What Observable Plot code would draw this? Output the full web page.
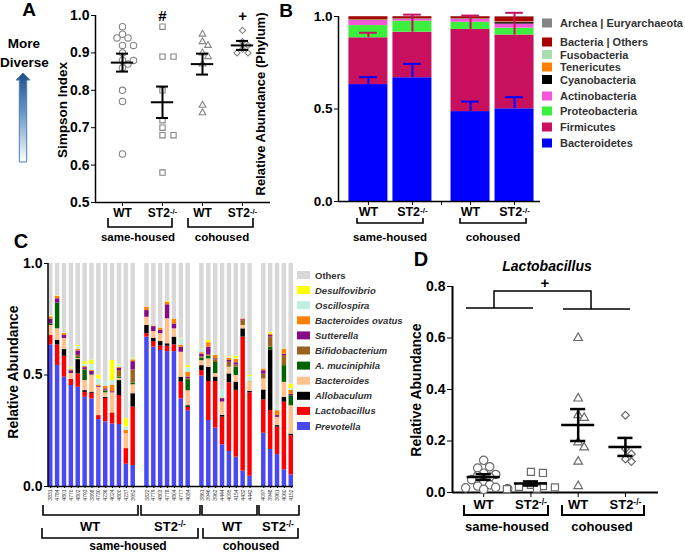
<!DOCTYPE html>
<html>
<head>
<meta charset="utf-8">
<script src="https://cdn.jsdelivr.net/npm/d3@7"></script>
<script src="https://cdn.jsdelivr.net/npm/@observablehq/plot@0.6"></script>
<style>
html,body{margin:0;padding:0;background:#fff;}
#fig{position:relative;width:685px;height:554px;overflow:hidden;background:#fff;}
#fig > svg{position:absolute;}
</style>
</head>
<body>
<div id="fig"></div>
<script>
// ================= DATA =================
const conditionLabels = ["WT", "ST2-/-", "WT", "ST2-/-"];
const housingLabels = ["same-housed", "cohoused"];

// Panel A: Simpson index
const simpsonWTSame = [0.97, 0.95, 0.94, 0.94, 0.92, 0.92, 0.90, 0.88, 0.88, 0.87, 0.86, 0.80, 0.77, 0.63];
const simpsonST2Same = [0.97, 0.89, 0.89, 0.80, 0.72, 0.70, 0.68, 0.68, 0.58];
const simpsonWTCo = [0.95, 0.93, 0.92, 0.90, 0.89, 0.87, 0.76, 0.74];
const simpsonST2Co = [0.96, 0.93, 0.92, 0.91, 0.90, 0.90];
const simpsonMean = [0.874, 0.768, 0.870, 0.920];
const simpsonSEM = [0.024, 0.042, 0.028, 0.012];
const simpsonSig = ["", "#", "", "+"];

// Panel B: phylum relative abundance (WT same, ST2 same, WT co, ST2 co)
const phylumNames = ["Bacteroidetes", "Firmicutes", "Proteobacteria", "Actinobacteria", "Cyanobacteria", "Tenericutes", "Fusobacteria", "Bacteria | Others", "Archea | Euryarchaeota"];
const bacteroidetes = [0.632, 0.669, 0.486, 0.501];
const firmicutes = [0.253, 0.246, 0.444, 0.399];
const proteobacteria = [0.066, 0.060, 0.039, 0.037];
const actinobacteria = [0.027, 0.009, 0.015, 0.022];
const cyanobacteria = [0.003, 0.002, 0.002, 0.008];
const tenericutes = [0.002, 0.001, 0.001, 0.002];
const fusobacteria = [0.001, 0.001, 0.001, 0.002];
const bacteriaOthers = [0.015, 0.011, 0.011, 0.027];
const archea = [0.001, 0.001, 0.001, 0.002];
const bacteroidetesSEM = [0.040, 0.075, 0.054, 0.063];
const firmicutesSEM = [0.027, 0.095, 0.075, 0.120];

// Panel C: genus relative abundance per mouse
const idsWTSame = ["3831", "4784", "4801", "4770", "4802", "4793", "3898", "4730", "4236", "4024", "4800", "4237", "3952"];
const idsST2Same = ["3822", "4779", "4803", "4778", "4804", "4777", "4084"];
const idsWTCo = ["3861", "3946", "3962", "4444", "4095", "4154", "4432", "4442"];
const idsST2Co = ["4097", "3948", "3961", "4060", "4152"];
const genusNames = ["Prevotella", "Lactobacillus", "Allobaculum", "Bacteroides", "A. muciniphila", "Bifidobacterium", "Sutterella", "Bacteroides ovatus", "Oscillospira", "Desulfovibrio", "Others"];
const prevotella = [0.635, 0.543, 0.49, 0.453, 0.445, 0.40, 0.393, 0.30, 0.29, 0.28, 0.278, 0.10, 0.094, 0.67, 0.625, 0.61, 0.605, 0.605, 0.393, 0.34, 0.495, 0.296, 0.262, 0.187, 0.157, 0.132, 0.069, 0.046, 0.239, 0.166, 0.143, 0.075, 0.052];
const lactobacillus = [0.042, 0.092, 0.094, 0.027, 0.06, 0.022, 0.025, 0.018, 0.105, 0.05, 0.13, 0.07, 0.262, 0.015, 0.025, 0.02, 0.024, 0.03, 0.075, 0.015, 0.025, 0.175, 0.209, 0.124, 0.308, 0.299, 0.601, 0.374, 0.149, 0.175, 0.123, 0.303, 0.176];
const allobaculum = [0, 0.02, 0.03, 0, 0.064, 0.008, 0.005, 0, 0.005, 0, 0.067, 0, 0.06, 0.037, 0.015, 0.02, 0.011, 0.035, 0.022, 0.007, 0.022, 0.064, 0.02, 0.008, 0.04, 0.037, 0.037, 0.007, 0.045, 0.272, 0.007, 0.022, 0.007];
const bacteroides = [0.045, 0.052, 0.05, 0.027, 0.005, 0.045, 0.075, 0.127, 0.02, 0.09, 0.01, 0.067, 0.04, 0.037, 0.03, 0.035, 0.112, 0.037, 0.112, 0.067, 0.022, 0.037, 0.015, 0.06, 0.03, 0.03, 0.015, 0.04, 0.049, 0, 0.037, 0.067, 0.127];
const akkermansia = [0.007, 0.115, 0, 0, 0.004, 0.045, 0, 0, 0.008, 0, 0.005, 0, 0.007, 0, 0, 0, 0, 0, 0, 0.05, 0.012, 0.012, 0.05, 0, 0, 0.037, 0, 0, 0, 0.012, 0, 0.075, 0.045];
const bifidobacterium = [0, 0, 0, 0, 0.01, 0.005, 0.003, 0, 0.004, 0, 0.03, 0, 0.06, 0, 0, 0, 0, 0, 0, 0.004, 0.006, 0.006, 0.012, 0, 0.022, 0.01, 0.022, 0, 0.022, 0.045, 0, 0.045, 0];
const sutterella = [0.022, 0.02, 0.013, 0.012, 0.02, 0.008, 0.015, 0.004, 0.006, 0.005, 0.01, 0, 0.037, 0.03, 0.022, 0.015, 0.063, 0.022, 0.022, 0.008, 0.012, 0.035, 0.005, 0.015, 0.008, 0.01, 0.004, 0, 0.015, 0.007, 0.008, 0.006, 0.006];
const bOvatus = [0.01, 0.01, 0.009, 0.005, 0.008, 0.005, 0.006, 0.006, 0.012, 0.03, 0.005, 0.015, 0.008, 0.015, 0.003, 0.01, 0.012, 0.022, 0.01, 0.022, 0.006, 0.02, 0.015, 0.003, 0.01, 0.015, 0.004, 0.003, 0.008, 0.007, 0.022, 0.022, 0.018];
const oscillospira = [0.003, 0.002, 0.002, 0.007, 0.012, 0.01, 0.025, 0.027, 0.02, 0.02, 0.01, 0.015, 0.004, 0, 0.002, 0, 0, 0.001, 0.028, 0.02, 0.015, 0, 0.005, 0.035, 0.003, 0.003, 0, 0.022, 0, 0, 0.015, 0, 0.008];
const desulfovibrio = [0.002, 0.002, 0.001, 0.004, 0.004, 0.012, 0.02, 0.018, 0, 0.09, 0.003, 0.037, 0.004, 0, 0, 0, 0.003, 0, 0.003, 0.01, 0.002, 0.01, 0, 0, 0.004, 0.01, 0, 0.007, 0, 0.007, 0, 0, 0.02];

// Panel D: Lactobacillus relative abundance
const lactoWTSame = [0.125, 0.10, 0.095, 0.075, 0.07, 0.065, 0.06, 0.05, 0.04, 0.03, 0.025, 0.02, 0.018, 0.015, 0.012];
const lactoST2Same = [0.08, 0.076, 0.03, 0.025, 0.022, 0.02, 0.015, 0.013];
const lactoWTCo = [0.60, 0.365, 0.30, 0.29, 0.195, 0.175, 0.12, 0.025];
const lactoST2Co = [0.30, 0.17, 0.15, 0.13, 0.12];
const lactoMean = [0.060, 0.035, 0.262, 0.177];
const lactoSEM = [0.011, 0.008, 0.062, 0.035];

// ================= STYLE / LAYOUT =================
const FONT = '"Liberation Sans", Arial, sans-serif';
const baseStyle = {fontFamily: FONT, fontWeight: "bold", fontSize: "13px", color: "#000", background: "transparent", overflow: "visible"};
const groupSymbols = ["circle", "square", "triangle", "diamond2"];
const symbolSizeA = [3.2, 3.0, 2.5, 2.8];
const symbolSizeD = [4.2, 4.0, 3.2, 3.5];
const phylumColors = ["#0000ff", "#c8105e", "#3cef3c", "#f656da", "#000000", "#ff8000", "#a9dcae", "#a80000", "#858585"];
const legendRowsB = [23, 42, 54.5, 67, 79.5, 96, 111, 127, 143]; // legend row layout (top to bottom)
const genusColors = ["#4848f4", "#ff0000", "#000000", "#ffc28e", "#006400", "#9a6420", "#860c86", "#ff8000", "#bdeee0", "#ffff00", "#d8d8d8"];
const fig = document.getElementById("fig");

function place(svg, left, top, xFont, yFont) {
  svg.style.position = "absolute";
  svg.style.left = left + "px";
  svg.style.top = top + "px";
  svg.style.maxWidth = "none";
  if (xFont) svg.querySelectorAll('[aria-label^="x-axis"] text').forEach(t => t.style.fontSize = xFont);
  if (yFont) svg.querySelectorAll('[aria-label^="y-axis"] text').forEach(t => t.style.fontSize = yFont);
  svg.querySelectorAll("text").forEach(t => {
    if (t.textContent === "ST2-/-") {
      t.textContent = "ST2";
      const ts = document.createElementNS("http://www.w3.org/2000/svg", "tspan");
      ts.setAttribute("dy", "-0.45em");
      ts.setAttribute("font-size", "0.65em");
      ts.textContent = "-/-";
      t.appendChild(ts);
    }
  });
  fig.appendChild(svg);
}

// deterministic dodge so that overlapping points spread sideways
function beeswarm(values, pos, pxY, pxX, minDist, offStep) {
  const placed = [];
  const idx = values.map((_, i) => i).sort((a, b) => values[b] - values[a]);
  const res = [];
  for (const i of idx) {
    const y = values[i] * pxY;
    let off = 0;
    for (let n = 0; n < 60; n++) {
      const k = Math.ceil(n / 2) * (n % 2 ? 1 : -1);
      off = k * offStep;
      if (placed.every(p => Math.hypot(p.off - off, p.y - y) >= minDist)) break;
    }
    placed.push({off, y});
    res.push({x: pos + off / pxX, y: values[i]});
  }
  return res;
}

// ================= PANEL A =================
const simpsonGroups = [simpsonWTSame, simpsonST2Same, simpsonWTCo, simpsonST2Co];
const pointsA = [];
simpsonGroups.forEach((vals, g) => beeswarm(vals, g, 376, 40, 6.5, 5.5).forEach(p => pointsA.push({...p, symbol: groupSymbols[g], r: symbolSizeA[g]})));
const summA = simpsonMean.map((m, g) => ({pos: g, mean: m, sem: simpsonSEM[g], sig: simpsonSig[g]}));

const plotA = Plot.plot({
  width: 285, height: 222,
  marginLeft: 95, marginRight: 15, marginTop: 15, marginBottom: 20,
  style: baseStyle,
  r: {type: "identity"},
  x: {domain: [-0.675, 3.7], ticks: [0, 1, 2, 3], tickFormat: i => conditionLabels[i], tickSize: 4, tickPadding: 2, label: null},
  y: {domain: [0.5, 1.0], ticks: [0.5, 0.6, 0.7, 0.8, 0.9, 1.0], tickFormat: d3.format(".1f"), tickSize: 4, tickPadding: 2, label: null},
  marks: [
    Plot.ruleX([-0.675], {strokeWidth: 1.5}),
    Plot.ruleY([0.5], {strokeWidth: 1.5}),
    Plot.dot(pointsA, {x: "x", y: "y", symbol: "symbol", r: "r", stroke: "#858585", fill: "white", strokeWidth: 1.1}),
    Plot.ruleY(summA, {y: "mean", x1: d => d.pos - 0.28, x2: d => d.pos + 0.28, strokeWidth: 2}),
    Plot.ruleX(summA, {x: "pos", y1: d => d.mean - d.sem, y2: d => d.mean + d.sem, strokeWidth: 2}),
    Plot.ruleY(summA, {y: d => d.mean + d.sem, x1: d => d.pos - 0.15, x2: d => d.pos + 0.15, strokeWidth: 2}),
    Plot.ruleY(summA, {y: d => d.mean - d.sem, x1: d => d.pos - 0.15, x2: d => d.pos + 0.15, strokeWidth: 2}),
    Plot.text(summA.filter(d => d.sig), {x: "pos", y: 1.0, text: "sig", fontSize: 15, fontWeight: "bold", dy: 1})
  ]
});
place(plotA, 0, 0, "12px", "14px");

// ================= PANEL B =================
const phylumSeries = [bacteroidetes, firmicutes, proteobacteria, actinobacteria, cyanobacteria, tenericutes, fusobacteria, bacteriaOthers, archea];
const barPosB = [0, 1, 2.32, 3.32];
const rectsB = [];
const topsB = [];
barPosB.forEach((pos, g) => {
  let y0 = 0;
  const tops = [];
  phylumSeries.forEach((s, k) => {
    rectsB.push({pos, phylum: phylumNames[k], y1: y0, y2: y0 + s[g]});
    y0 += s[g];
    tops.push(y0);
  });
  topsB.push(tops);
});
const errB = [];
barPosB.forEach((pos, g) => {
  errB.push({pos, phylum: phylumNames[0], y1: topsB[g][0], y2: topsB[g][0] + bacteroidetesSEM[g]});
  errB.push({pos, phylum: phylumNames[1], y1: topsB[g][1], y2: topsB[g][1] + firmicutesSEM[g]});
});

const plotB = Plot.plot({
  width: 320, height: 222,
  marginLeft: 108, marginRight: 10, marginTop: 16, marginBottom: 21,
  style: baseStyle,
  color: {domain: phylumNames, range: phylumColors},
  x: {domain: [-0.68, 3.91], ticks: [0, 1, 1.66, 2.32, 3.32], tickFormat: v => ({0: "WT", 1: "ST2-/-", 2.32: "WT", 3.32: "ST2-/-"})[v] || "", tickSize: 4, tickPadding: 2, label: null},
  y: {domain: [0, 1], ticks: [0, 0.5, 1], tickFormat: d3.format(".1f"), tickSize: 4, tickPadding: 2, label: null},
  marks: [
    Plot.rect(rectsB, {x1: d => d.pos - 0.443, x2: d => d.pos + 0.443, y1: "y1", y2: "y2", fill: "phylum"}),
    Plot.ruleX(errB, {x: "pos", y1: "y1", y2: "y2", stroke: "phylum", strokeWidth: 2}),
    Plot.ruleY(errB, {y: "y2", x1: d => d.pos - 0.2, x2: d => d.pos + 0.2, stroke: "phylum", strokeWidth: 2}),
    Plot.ruleX([-0.68], {strokeWidth: 1.5}),
    Plot.ruleY([0], {strokeWidth: 1.5})
  ]
});
place(plotB, 230, 0, "12.5px", "13.5px");

// ================= PANEL C =================
const sampleGroups = [idsWTSame, idsST2Same, idsWTCo, idsST2Co];
const sampleIds = [].concat(...sampleGroups);
const slotDomain = [];
sampleGroups.forEach((g, gi) => { if (gi) slotDomain.push("gap" + gi); slotDomain.push(...g); });
const genusSeries = [prevotella, lactobacillus, allobaculum, bacteroides, akkermansia, bifidobacterium, sutterella, bOvatus, oscillospira, desulfovibrio];
const rowsC = [];
sampleIds.forEach((id, i) => {
  let y0 = 0;
  genusSeries.forEach((s, k) => { rowsC.push({id, genus: genusNames[k], y1: y0, y2: y0 + s[i]}); y0 += s[i]; });
  rowsC.push({id, genus: "Others", y1: y0, y2: 1});
});

const plotC = Plot.plot({
  width: 300, height: 272,
  marginLeft: 48, marginRight: 7, marginTop: 33, marginBottom: 16,
  style: baseStyle,
  color: {domain: genusNames, range: genusColors},
  x: {type: "band", domain: slotDomain, paddingInner: 0.35, paddingOuter: 0, ticks: sampleIds, tickRotate: -90, tickSize: 2, tickPadding: 1, label: null},
  y: {domain: [0, 1], ticks: [0, 0.5, 1], tickFormat: d3.format(".1f"), tickSize: 4, tickPadding: 2, label: null},
  marks: [
    Plot.barY(rowsC, {x: "id", y1: "y1", y2: "y2", fill: "genus"}),
    Plot.ruleY([0], {strokeWidth: 1.5})
  ]
});
place(plotC, 0, 230, "5px", "14px");
plotC.querySelectorAll('[aria-label^="x-axis"] text').forEach(t => { t.style.fill = "#333"; t.style.fontWeight = "normal"; });

// ================= PANEL D =================
const lactoGroups = [lactoWTSame, lactoST2Same, lactoWTCo, lactoST2Co];
const pointsD = [];
lactoGroups.forEach((vals, g) => beeswarm(vals, g, 258, 47.25, 6.5, 6).forEach(p => pointsD.push({...p, symbol: groupSymbols[g], r: symbolSizeD[g]})));
const summD = lactoMean.map((m, g) => ({pos: g, mean: m, sem: lactoSEM[g]}));

const plotD = Plot.plot({
  width: 285, height: 254,
  marginLeft: 52, marginRight: 27, marginTop: 26, marginBottom: 22,
  style: baseStyle,
  r: {type: "identity"},
  x: {domain: [-0.66, 3.70], ticks: [0, 1, 2, 3], tickFormat: i => conditionLabels[i], tickSize: 5, tickPadding: 2, label: null},
  y: {domain: [0, 0.8], ticks: [0, 0.2, 0.4, 0.6, 0.8], tickFormat: d3.format(".1f"), tickSize: 5, tickPadding: 2, label: null},
  marks: [
    Plot.ruleX([-0.66], {strokeWidth: 2}),
    Plot.ruleY([0], {strokeWidth: 2}),
    Plot.dot(pointsD, {x: "x", y: "y", symbol: "symbol", r: "r", stroke: "#6a6a6a", fill: "white", strokeWidth: 1.2}),
    Plot.ruleY(summD, {y: "mean", x1: d => d.pos - 0.35, x2: d => d.pos + 0.35, strokeWidth: 2.5}),
    Plot.ruleX(summD, {x: "pos", y1: d => d.mean - d.sem, y2: d => d.mean + d.sem, strokeWidth: 2.5}),
    Plot.ruleY(summD, {y: d => d.mean + d.sem, x1: d => d.pos - 0.16, x2: d => d.pos + 0.16, strokeWidth: 2.5}),
    Plot.ruleY(summD, {y: d => d.mean - d.sem, x1: d => d.pos - 0.16, x2: d => d.pos + 0.16, strokeWidth: 2.5})
  ]
});
place(plotD, 400, 260, "13px", "14px");

// ================= OVERLAY (labels, brackets, legends) =================
const ov = [];
function sup(s) { return s.replace("ST2-/-", 'ST2<tspan dy="-0.45em" font-size="0.65em">-/-</tspan>'); }
function txt(x, y, s, size, extra = "") { ov.push(`<text x="${x}" y="${y}" font-size="${size}" ${extra}>${sup(s)}</text>`); }
function rtxt(x, y, s, size) { ov.push(`<text transform="translate(${x},${y}) rotate(-90)" font-size="${size}">${s}</text>`); }
function bracket(x1, x2, yTop, yBot, w = 1.6) { ov.push(`<path d="M${x1},${yTop}V${yBot}H${x2}V${yTop}" fill="none" stroke="#000" stroke-width="${w}"/>`); }

// Panel letters
txt(29, 16, "A", 19); txt(286, 17, "B", 19); txt(21, 248, "C", 20); txt(421, 266, "D", 20);

// Panel A extras
txt(24, 47.5, "More", 13.5); txt(24.5, 67, "Diverse", 13.5);
ov.push(`<defs><linearGradient id="ag" x1="0" y1="0" x2="0" y2="1"><stop offset="0" stop-color="#1d4f8a"/><stop offset="0.45" stop-color="#6a98c8"/><stop offset="1" stop-color="#ffffff"/></linearGradient></defs>`);
ov.push(`<path d="M23,73 L30,80 L26.7,80 L26.7,162 L19.3,162 L19.3,80 L16,80 Z" fill="url(#ag)" stroke="#4d7db5" stroke-width="1"/>`);
rtxt(66.5, 110, "Simpson Index", 13.5);
bracket(108, 172, 218, 227); bracket(188, 253, 218, 227);
txt(138, 241, housingLabels[0], 11.5); txt(222, 241, housingLabels[1], 11.5);

// Panel B extras
rtxt(264.5, 104, "Relative Abundance (Phylum)", 13);
bracket(357, 423, 218, 223); bracket(460, 526, 218, 223);
txt(390, 241, housingLabels[0], 11.5); txt(493, 241, housingLabels[1], 11.5);
phylumNames.slice().reverse().forEach((name, i) => {
  const yc = legendRowsB[i];
  const col = phylumColors[phylumNames.indexOf(name)];
  ov.push(`<rect x="542" y="${yc - 4.5}" width="10" height="9" fill="${col}"/>`);
  ov.push(`<text x="560" y="${yc + 4}" font-size="11" text-anchor="start" fill="#333">${name}</text>`);
});

// Panel C extras
rtxt(18, 372, "Relative Abundance", 14);
ov.push(`<line x1="48" y1="263" x2="48" y2="486" stroke="#000" stroke-width="1.5"/>`);
bracket(43, 138, 505, 515); bracket(141, 200, 505, 515); bracket(202, 257, 505, 515); bracket(259, 299, 505, 515);
txt(90, 531, conditionLabels[0], 13); txt(170, 531, conditionLabels[1], 13); txt(232, 531, conditionLabels[2], 13); txt(278, 531, conditionLabels[3], 13);
bracket(42, 198, 528, 538); bracket(203, 298, 528, 538);
txt(128, 550, housingLabels[0], 12); txt(251, 550, housingLabels[1], 12);
genusNames.slice().reverse().forEach((name, i) => {
  const yc = 275 + i * 15.1;
  const col = genusColors[genusNames.indexOf(name)];
  ov.push(`<rect x="297" y="${yc - 4}" width="13" height="8" fill="${col}"/>`);
  ov.push(`<text x="315" y="${yc + 3.5}" font-size="9.5" text-anchor="start" fill="#333" ${name === "Others" ? "" : 'font-style="italic"'}>${name}</text>`);
});

// Panel D extras
txt(547, 271, "Lactobacillus", 14, 'font-style="italic"');
rtxt(421, 390, "Relative Abundance", 14);
ov.push(`<path d="M466,308H533 M563,309H630" stroke="#000" stroke-width="1.5" fill="none"/>`);
ov.push(`<path d="M494,308V291H591V309" stroke="#000" stroke-width="1.5" fill="none"/>`);
txt(545, 288, "+", 15);
bracket(464, 548, 505, 515, 2); bracket(562, 644, 505, 515, 2);
txt(507, 531, housingLabels[0], 13); txt(602, 531, housingLabels[1], 13);

const ovSvg = `<svg xmlns="http://www.w3.org/2000/svg" width="685" height="554" style="position:absolute;left:0;top:0;pointer-events:none" font-family='${FONT}' font-weight="bold" text-anchor="middle" fill="#000">${ov.join("")}</svg>`;
fig.insertAdjacentHTML("beforeend", ovSvg);
</script>
</body>
</html>
